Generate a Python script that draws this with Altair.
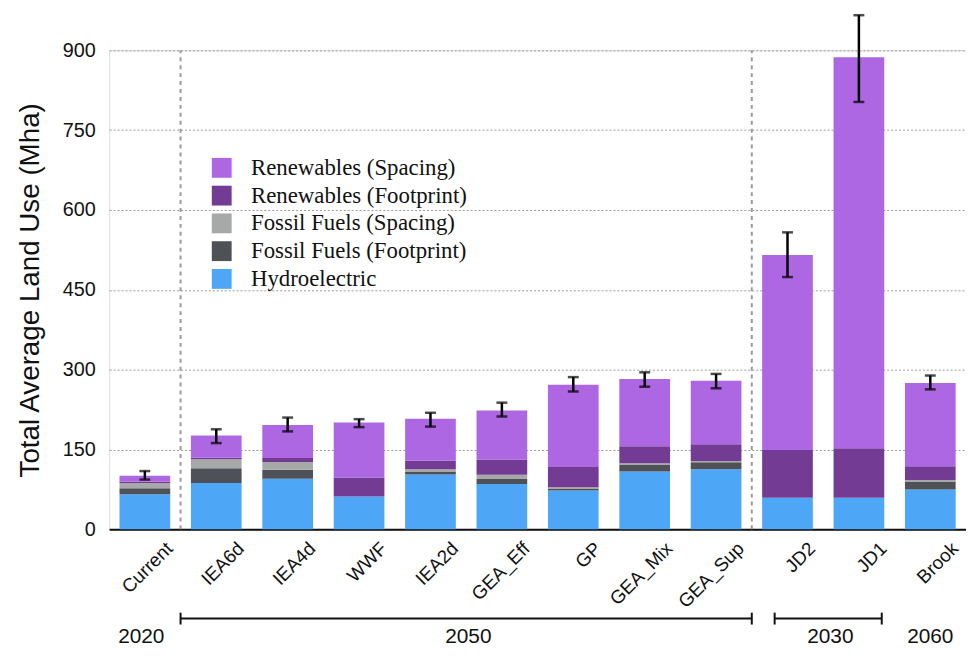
import altair as alt
import pandas as pd

scenarios = ["Current", "IEA6d", "IEA4d", "WWF", "IEA2d", "GEA_Eff", "GP",
             "GEA_Mix", "GEA_Sup", "JD2", "JD1", "Brook"]
hydro = [66, 87, 95, 61.5, 103, 85, 73, 108.5, 113, 59.5, 59.5, 75]
fossil_fp = [11, 28, 17, 0, 5.5, 9.5, 3.5, 12.5, 13, 0, 0, 14]
fossil_sp = [10, 16.5, 14.5, 0, 4.5, 8, 2.5, 3, 2.5, 0, 0, 3.5]
renew_fp = [2.5, 3, 7.5, 36, 16, 28.5, 38, 32, 31.5, 89.5, 93, 26]
renew_sp = [11, 42, 62, 103, 79, 92.5, 154.5, 126.5, 119, 366.5, 734.5, 156.5]
err_low = [93.5, 162, 184, 192, 193, 212, 259, 268, 265, 474, 803, 263]
err_high = [109.5, 188, 210, 207, 219, 238, 286, 295, 292, 558, 966, 289]

series_names = ["Renewables (Spacing)", "Renewables (Footprint)",
                "Fossil Fuels (Spacing)", "Fossil Fuels (Footprint)", "Hydroelectric"]
series_colors = ["#AE67E2", "#733B93", "#A7A9A9", "#4E5157", "#4DA6F6"]
y_ticks = [0, 150, 300, 450, 600, 750, 900]

separators = ["IEA6d", "JD2"]
year_labels = ["2020", "2050", "2030", "2060"]

# ---- tables ----
stack_values = {
    "Hydroelectric": hydro,
    "Fossil Fuels (Footprint)": fossil_fp,
    "Fossil Fuels (Spacing)": fossil_sp,
    "Renewables (Footprint)": renew_fp,
    "Renewables (Spacing)": renew_sp,
}
rows = []
for order_idx, (name, vals) in enumerate(stack_values.items()):
    for s, v in zip(scenarios, vals):
        rows.append({"scenario": s, "series": name, "value": v, "ord": order_idx})
long_df = pd.DataFrame(rows)
err_df = pd.DataFrame({"scenario": scenarios, "lo": err_low, "hi": err_high})
sep_df = pd.DataFrame({"scenario": separators, "y0": [0, 0], "y1": [900, 900]})

font = "Liberation Sans"
xscale = alt.Scale(domain=scenarios, paddingInner=0, paddingOuter=0)

x_enc = alt.X(
    "scenario:N", sort=scenarios, scale=xscale, title=None,
    axis=alt.Axis(labelAngle=-45, labelFontSize=19, labelFont=font, labelColor="#111",
                  domainColor="#111", domainWidth=2, ticks=False, grid=False,
                  labelPadding=16, labelOffset=25, labelLimit=0, labelOverlap=False),
)

bars = alt.Chart(long_df).mark_bar(width=alt.RelativeBandSize(0.71)).encode(
    x=x_enc,
    y=alt.Y("value:Q", stack="zero",
            scale=alt.Scale(domain=[0, 900], nice=False),
            axis=alt.Axis(values=y_ticks, labelFontSize=20, labelFont=font, labelColor="#111",
                          labelPadding=14, domain=False, ticks=False, grid=True,
                          gridDash=[2, 2], gridColor="#9a9a9a", gridWidth=1,
                          title="Total Average Land Use (Mha)", titleFontSize=28,
                          titleFont=font, titleFontWeight="normal", titleColor="#111",
                          titlePadding=18)),
    color=alt.Color("series:N",
                    scale=alt.Scale(domain=series_names, range=series_colors),
                    legend=alt.Legend(orient="none", legendX=102, legendY=107, title=None,
                                      symbolType="square", symbolSize=400,
                                      symbolStrokeWidth=0, labelFont="Liberation Serif",
                                      labelFontSize=23, labelColor="#111", rowPadding=4,
                                      labelOffset=18, padding=0, labelLimit=0)),
    order=alt.Order("ord:Q", sort="ascending"),
)

seps = alt.Chart(sep_df).mark_rule(color="#9a9a9a", strokeWidth=2, strokeDash=[4, 4]).encode(
    x=alt.X("scenario:N", sort=scenarios, bandPosition=0),
    y="y0:Q", y2="y1:Q",
)

err_rule = alt.Chart(err_df).mark_rule(color="black", strokeWidth=2.5).encode(
    x=alt.X("scenario:N", sort=scenarios), y="lo:Q", y2="hi:Q")
cap_lo = alt.Chart(err_df).mark_tick(color="black", size=11, thickness=2.5).encode(
    x=alt.X("scenario:N", sort=scenarios), y="lo:Q")
cap_hi = alt.Chart(err_df).mark_tick(color="black", size=11, thickness=2.5).encode(
    x=alt.X("scenario:N", sort=scenarios), y="hi:Q")

# bracket annotations below the axis
br_df1 = pd.DataFrame({"s": ["IEA6d"], "e": ["GEA_Sup"]})
br_df2 = pd.DataFrame({"s": ["JD2"], "e": ["JD1"]})
BR_Y = 573
br1 = alt.Chart(br_df1).mark_rule(color="#111", strokeWidth=2).encode(
    x=alt.X("s:N", bandPosition=0), x2=alt.X2("e", bandPosition=1), y=alt.value(BR_Y))
br1a = alt.Chart(br_df1).mark_rule(color="#111", strokeWidth=2).encode(
    x=alt.X("s:N", bandPosition=0), y=alt.value(BR_Y - 6), y2=alt.value(BR_Y + 6))
br1b = alt.Chart(br_df1).mark_rule(color="#111", strokeWidth=2).encode(
    x=alt.X("e:N", bandPosition=1), y=alt.value(BR_Y - 6), y2=alt.value(BR_Y + 6))
br2 = alt.Chart(br_df2).mark_rule(color="#111", strokeWidth=2).encode(
    x=alt.X("s:N", bandPosition=0.32), x2=alt.X2("e", bandPosition=0.82), y=alt.value(BR_Y))
br2a = alt.Chart(br_df2).mark_rule(color="#111", strokeWidth=2).encode(
    x=alt.X("s:N", bandPosition=0.32), y=alt.value(BR_Y - 6), y2=alt.value(BR_Y + 6))
br2b = alt.Chart(br_df2).mark_rule(color="#111", strokeWidth=2).encode(
    x=alt.X("e:N", bandPosition=0.82), y=alt.value(BR_Y - 6), y2=alt.value(BR_Y + 6))

YEAR_Y = 592
def year_text(cat, label, bp):
    d = pd.DataFrame({"scenario": [cat], "label": [label]})
    return alt.Chart(d).mark_text(fontSize=21, font=font, color="#111", baseline="middle").encode(
        x=alt.X("scenario:N", bandPosition=bp), y=alt.value(YEAR_Y), text="label:N")

years = [
    year_text("Current", year_labels[0], 0.45),
    year_text("GEA_Eff", year_labels[1], 0.03),
    year_text("JD1", year_labels[2], 0.1),
    year_text("Brook", year_labels[3], 0.5),
]

chart = alt.layer(
    seps, bars, err_rule, cap_lo, cap_hi, br1, br1a, br1b, br2, br2a, br2b, *years
).properties(
    width=864, height=483,
    padding={"left": 102, "top": 40, "right": 0, "bottom": 120},
    autosize=alt.AutoSizeParams(type="none"),
).configure_view(stroke=None).configure(background="white")

chart.save("out.html", embed_options={"renderer": "svg", "actions": False})
